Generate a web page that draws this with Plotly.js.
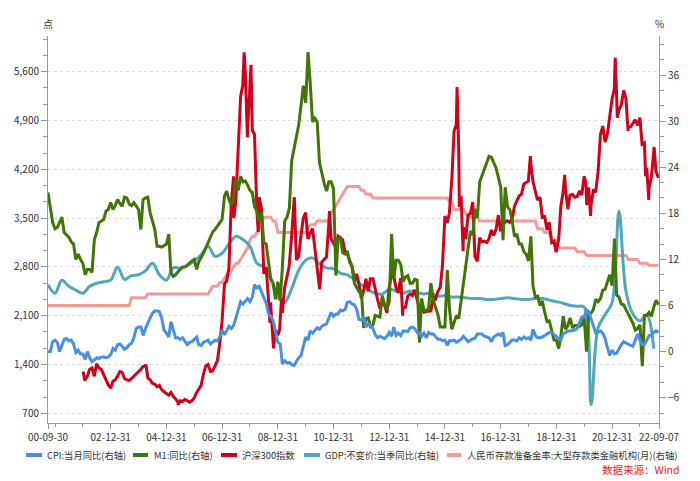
<!DOCTYPE html>
<html>
<head>
<meta charset="utf-8">
<script src="https://cdn.plot.ly/plotly-3.0.1.min.js"></script>
<style>html,body{margin:0;padding:0;background:#fff;}#chart{width:700px;height:481px;}</style>
</head>
<body>
<div id="chart"></div>
<script>
// ---------------- DATA ----------------
const seriesNames = ["CPI:当月同比(右轴)", "M1:同比(右轴)", "沪深300指数", "GDP:不变价:当季同比(右轴)", "人民币存款准备金率:大型存款类金融机构(月)(右轴)"];
const sourceText = "数据来源：Wind";

// Monthly series start 2000-09 (month-end)
const cpiValues = [
  0.0, 0.0, 1.3, 1.5,
  1.2, 0.0, 0.8, 1.6, 1.7, 1.4, 1.5, 1.0, -0.1, 0.2, -0.3, -0.3,
  -1.0, 0.0, -0.8, -1.3, -1.1, -0.8, -0.9, -0.7, -0.7, -0.8, -0.7, -0.4,
  0.4, 0.2, 0.9, 1.0, 0.7, 0.3, 0.5, 0.9, 1.1, 1.8, 3.0, 3.2,
  3.2, 2.1, 3.0, 3.8, 4.4, 5.0, 5.3, 5.3, 5.2, 4.3, 2.8, 2.4,
  1.9, 3.9, 2.7, 1.8, 1.8, 1.6, 1.8, 1.3, 0.9, 1.2, 1.3, 1.6,
  1.9, 0.9, 0.8, 1.2, 1.4, 1.5, 1.0, 1.3, 1.5, 1.4, 1.9, 2.8,
  2.2, 2.7, 3.3, 3.0, 3.4, 4.4, 5.6, 6.5, 6.2, 6.5, 6.9, 6.5,
  7.1, 8.7, 8.3, 8.5, 7.7, 7.1, 6.3, 4.9, 4.6, 4.0, 2.4, 1.2,
  1.0, -1.6, -1.2, -1.5, -1.4, -1.7, -1.8, -1.2, -0.8, -0.5, 0.6, 1.9,
  1.5, 2.7, 2.4, 2.8, 3.1, 2.9, 3.3, 3.5, 3.6, 4.4, 5.1, 4.6,
  4.9, 4.9, 5.4, 5.3, 5.5, 6.4, 6.5, 6.2, 6.1, 5.5, 4.2, 4.1,
  4.5, 3.2, 3.6, 3.4, 3.0, 2.2, 1.8, 2.0, 1.9, 1.7, 2.0, 2.5,
  2.0, 3.2, 2.1, 2.4, 2.1, 2.7, 2.7, 2.6, 3.1, 3.2, 3.0, 2.5,
  2.5, 2.0, 2.4, 1.8, 2.5, 2.3, 2.3, 2.0, 1.6, 1.6, 1.4, 1.5,
  0.8, 1.4, 1.4, 1.5, 1.2, 1.4, 1.6, 2.0, 1.6, 1.3, 1.5, 1.6,
  1.8, 2.3, 2.3, 2.3, 2.0, 1.9, 1.8, 1.3, 1.9, 2.1, 2.3, 2.1,
  2.5, 0.8, 0.9, 1.2, 1.5, 1.5, 1.4, 1.8, 1.6, 1.9, 1.7, 1.8,
  1.5, 2.9, 2.1, 1.8, 1.8, 1.9, 2.1, 2.3, 2.5, 2.5, 2.2, 1.9,
  1.7, 1.5, 2.3, 2.5, 2.7, 2.7, 2.8, 2.8, 3.0, 3.8, 4.5, 4.5,
  5.4, 5.2, 4.3, 3.3, 2.4, 2.5, 2.7, 2.4, 1.7, 0.5, -0.5, 0.2,
  -0.3, -0.2, 0.4, 0.9, 1.3, 1.1, 1.0, 0.8, 0.7, 1.5, 2.3, 1.5,
  0.9, 0.9, 1.5, 2.1, 2.1, 2.5, 2.7, 2.5
];

const m1Values = [
  20.7, 18.5, 16.8, 16.0,
  16.2, 16.8, 17.5, 15.5, 15.2, 14.9, 14.3, 14.0, 12.0, 12.7, 12.0, 11.5,
  10.0, 10.7, 10.7, 10.3, 14.6, 15.5, 16.8, 17.0, 17.2, 18.3, 18.5, 19.4,
  18.5, 19.0, 19.8, 19.3, 18.9, 20.1, 20.0, 19.2, 19.0, 19.4, 19.0, 18.5,
  15.9, 19.8, 20.0, 20.1, 18.1, 17.0, 15.9, 13.7, 13.7, 13.6, 13.8, 14.0,
  15.3, 10.3, 9.8, 10.0, 10.4, 10.7, 11.0, 11.0, 11.3, 11.5, 11.8, 12.0,
  10.7, 11.7, 12.2, 12.8, 13.5, 14.2, 15.0, 15.6, 15.9, 16.3, 16.8, 17.2,
  20.2, 20.9, 19.8, 19.1, 20.0, 22.4, 21.0, 22.8, 22.1, 22.2, 21.7, 21.0,
  20.7, 18.9, 18.3, 16.9, 18.1, 14.2, 14.0, 11.8, 9.4, 8.9, 6.8, 9.1,
  6.7, 10.9, 17.0, 17.5, 18.7, 24.8, 26.4, 27.7, 29.5, 32.0, 34.6, 32.4,
  39.0, 35.0, 29.9, 30.4, 29.9, 24.6, 23.0, 21.9, 20.9, 22.1, 22.1, 21.2,
  9.9, 14.5, 15.0, 12.9, 12.7, 13.1, 11.6, 11.2, 8.9, 8.4, 7.8, 7.9,
  3.1, 4.3, 4.4, 3.1, 3.5, 4.7, 4.6, 4.5, 7.3, 6.1, 5.5, 6.5,
  15.3, 9.5, 11.9, 11.9, 11.3, 9.1, 9.7, 9.9, 8.9, 8.9, 9.4, 9.3,
  1.2, 6.9, 5.4, 5.3, 5.7, 8.9, 6.7, 5.7, 4.8, 3.2, 3.2, 3.2,
  10.6, 5.6, 2.9, 3.7, 4.7, 4.3, 6.6, 9.3, 11.4, 14.0, 15.7, 15.2,
  18.6, 17.4, 22.1, 22.9, 23.7, 24.6, 25.4, 25.3, 24.7, 23.9, 22.7, 21.4,
  14.5, 21.4, 18.8, 18.5, 17.0, 15.0, 15.3, 14.0, 14.0, 13.0, 12.7, 11.8,
  15.0, 8.5, 7.1, 7.2, 6.0, 6.6, 5.1, 3.9, 4.0, 2.7, 1.5, 1.5,
  0.4, 2.0, 4.6, 2.9, 3.4, 4.4, 3.1, 3.4, 3.4, 3.3, 3.5, 4.4,
  0.0, 4.8, 5.0, 5.5, 6.8, 6.5, 6.9, 8.0, 8.1, 9.1, 10.0, 8.6,
  14.7, 7.4, 7.1, 6.2, 6.1, 5.5, 4.9, 4.2, 3.7, 2.8, 3.0, 3.5,
  -1.9, 4.7, 4.7, 5.1, 4.6, 5.8, 6.7, 6.1
];

// Quarterly GDP, starting 2000-Q3
const gdpValues = [
  8.7, 7.6,
  9.3, 8.5, 8.0, 7.6,
  8.5, 8.9, 9.1, 9.3,
  11.0, 9.4, 9.9, 10.0,
  10.5, 11.5, 10.0, 9.3,
  10.9, 10.9, 11.2, 11.8,
  12.6, 13.7, 12.4, 12.8,
  14.0, 15.0, 14.6, 13.7,
  11.5, 11.0, 9.5, 7.1,
  6.4, 8.2, 10.6, 11.9,
  12.2, 11.4, 10.9, 10.8,
  10.2, 10.0, 9.4, 8.7,
  8.1, 7.6, 7.5, 8.1,
  7.9, 7.6, 7.9, 7.7,
  7.5, 7.6, 7.2, 7.3,
  7.1, 7.1, 7.0, 6.9,
  6.9, 6.8, 6.8, 6.9,
  7.0, 6.9, 6.8, 6.8,
  6.9, 6.9, 6.7, 6.5,
  6.3, 6.0, 5.9, 5.8,
  -6.9, 3.1, 4.8, 6.4,
  18.3, 7.9, 4.9, 4.0,
  4.8, 0.4
];

// Reserve requirement ratio (large institutions), monthly change points
const rrrDates = [
  "2000-09-30","2003-08-31","2003-09-30","2004-03-31","2004-04-30","2006-06-30","2006-07-31","2006-08-31","2006-10-31","2006-11-30",
  "2006-12-31","2007-01-31","2007-02-28","2007-03-31","2007-04-30","2007-05-31","2007-06-30","2007-07-31","2007-08-31","2007-09-30",
  "2007-10-31","2007-11-30","2007-12-31","2008-01-31","2008-02-29","2008-03-31","2008-04-30","2008-05-31","2008-06-30","2008-09-30",
  "2008-10-31","2008-11-30","2008-12-31","2009-12-31","2010-01-31","2010-02-28","2010-04-30","2010-05-31","2010-10-31","2010-11-30",
  "2010-12-31","2011-01-31","2011-02-28","2011-03-31","2011-04-30","2011-05-31","2011-06-30","2011-11-30","2011-12-31","2012-01-31",
  "2012-02-29","2012-04-30","2012-05-31","2015-01-31","2015-02-28","2015-03-31","2015-04-30","2015-08-31","2015-09-30","2015-10-31",
  "2016-02-29","2016-03-31","2018-03-31","2018-04-30","2018-06-30","2018-07-31","2018-09-30","2018-10-31","2018-12-31","2019-01-31",
  "2019-08-31","2019-09-30","2019-12-31","2020-01-31","2021-06-30","2021-07-31","2021-11-30","2021-12-31","2022-03-31","2022-04-30",
  "2022-08-31"
];
const rrrValues = [
  6, 6, 7, 7, 7.5, 7.5, 8, 8.5, 8.5, 9,
  9, 9.5, 10, 10, 10.5, 11, 11.5, 11.5, 12, 12.5,
  13, 13.5, 14.5, 15, 15, 15.5, 16, 16.5, 17.5, 17.5,
  17, 17, 15.5, 15.5, 16, 16.5, 16.5, 17, 17, 18,
  18.5, 19, 19.5, 20, 20.5, 21, 21.5, 21.5, 21, 21,
  20.5, 20.5, 20, 20, 19.5, 19.5, 18.5, 18.5, 18, 17.5,
  17.5, 17, 17, 16, 16, 15.5, 15.5, 14.5, 14.5, 13.5,
  13.5, 13, 13, 12.5, 12.5, 12, 12, 11.5, 11.5, 11.25,
  11.25
];

// CSI 300 index
const csiDates = [
  "2002-01-04","2002-01-25","2002-02-28","2002-03-29","2002-04-30","2002-05-31","2002-06-28","2002-07-31","2002-08-30","2002-09-30","2002-10-31","2002-11-29","2002-12-31",
  "2003-01-30","2003-02-28","2003-03-31","2003-04-30","2003-05-30","2003-06-30","2003-07-31","2003-08-29","2003-09-30","2003-10-31","2003-11-28","2003-12-31",
  "2004-01-30","2004-02-27","2004-03-31","2004-04-07","2004-04-30","2004-05-31","2004-06-30","2004-07-30","2004-08-31","2004-09-30","2004-10-29","2004-11-30","2004-12-31",
  "2005-01-31","2005-02-28","2005-03-31","2005-04-29","2005-05-31","2005-06-03","2005-06-30","2005-07-29","2005-08-31","2005-09-30","2005-10-31","2005-11-30","2005-12-30",
  "2006-01-26","2006-02-28","2006-03-31","2006-04-28","2006-05-31","2006-06-30","2006-07-31","2006-08-31","2006-09-29","2006-10-31","2006-11-30","2006-12-29",
  "2007-01-31","2007-02-28","2007-03-30","2007-04-30","2007-05-30","2007-06-04","2007-06-29","2007-07-31","2007-08-31","2007-09-28","2007-10-16","2007-10-31","2007-11-28","2007-11-30","2007-12-28",
  "2008-01-14","2008-01-31","2008-02-29","2008-03-31","2008-04-18","2008-04-30","2008-05-30","2008-06-30","2008-07-31","2008-08-29","2008-09-18","2008-09-26","2008-10-31","2008-11-04","2008-11-28","2008-12-31",
  "2009-01-23","2009-02-17","2009-02-27","2009-03-31","2009-04-30","2009-05-27","2009-06-30","2009-07-31","2009-08-04","2009-08-31","2009-09-30","2009-10-30","2009-11-30","2009-12-31",
  "2010-01-29","2010-02-26","2010-03-31","2010-04-30","2010-05-31","2010-06-30","2010-07-02","2010-07-30","2010-08-31","2010-09-30","2010-10-29","2010-11-08","2010-11-30","2010-12-31",
  "2011-01-31","2011-02-28","2011-03-31","2011-04-29","2011-05-31","2011-06-30","2011-07-29","2011-08-31","2011-09-30","2011-10-31","2011-11-30","2011-12-30",
  "2012-01-31","2012-02-29","2012-03-30","2012-04-27","2012-05-31","2012-06-29","2012-07-31","2012-08-31","2012-09-28","2012-10-31","2012-11-30","2012-12-31",
  "2013-01-31","2013-02-06","2013-02-28","2013-03-29","2013-04-26","2013-05-31","2013-06-25","2013-06-28","2013-07-31","2013-08-30","2013-09-30","2013-10-31","2013-11-29","2013-12-31",
  "2014-01-30","2014-02-28","2014-03-31","2014-04-30","2014-05-30","2014-06-30","2014-07-31","2014-08-29","2014-09-30","2014-10-31","2014-11-28","2014-12-31",
  "2015-01-30","2015-02-27","2015-03-31","2015-04-30","2015-05-29","2015-06-08","2015-06-30","2015-07-08","2015-07-31","2015-08-26","2015-08-31","2015-09-30","2015-10-30","2015-11-30","2015-12-31",
  "2016-01-28","2016-02-29","2016-03-31","2016-04-29","2016-05-31","2016-06-30","2016-07-29","2016-08-31","2016-09-30","2016-10-31","2016-11-30","2016-12-30",
  "2017-01-26","2017-02-28","2017-03-31","2017-04-28","2017-05-31","2017-06-30","2017-07-31","2017-08-31","2017-09-29","2017-10-31","2017-11-30","2017-12-29",
  "2018-01-24","2018-01-31","2018-02-28","2018-03-30","2018-04-27","2018-05-31","2018-06-29","2018-07-31","2018-08-31","2018-09-28","2018-10-31","2018-11-30","2018-12-28",
  "2019-01-31","2019-02-28","2019-03-29","2019-04-19","2019-04-30","2019-05-31","2019-06-28","2019-07-31","2019-08-30","2019-09-30","2019-10-31","2019-11-29","2019-12-31",
  "2020-01-23","2020-02-03","2020-02-28","2020-03-23","2020-03-31","2020-04-30","2020-05-29","2020-06-30","2020-07-31","2020-08-31","2020-09-30","2020-10-30","2020-11-30","2020-12-31",
  "2021-01-29","2021-02-10","2021-02-26","2021-03-09","2021-03-31","2021-04-30","2021-05-31","2021-06-30","2021-07-28","2021-07-30","2021-08-31","2021-09-30","2021-10-29","2021-11-30","2021-12-31",
  "2022-01-28","2022-02-28","2022-03-15","2022-03-31","2022-04-26","2022-04-29","2022-05-31","2022-06-30","2022-07-05","2022-07-29","2022-08-31","2022-09-07"
];
const csiValues = [
  1300, 1170, 1230, 1330, 1350, 1230, 1410, 1350, 1330, 1240, 1180, 1110, 1060,
  1160, 1180, 1230, 1300, 1290, 1200, 1180, 1170, 1200, 1230, 1260, 1290,
  1330, 1370, 1380, 1400, 1210, 1180, 1130, 1120, 1080, 1100, 1040, 1010, 990,
  960, 1000, 940, 910, 860, 820, 880, 870, 900, 880, 860, 880, 920,
  990, 1040, 1100, 1250, 1380, 1400, 1300, 1310, 1380, 1460, 1700, 2000,
  2550, 2600, 2780, 3700, 4100, 3500, 3750, 4470, 5250, 5400, 5877, 5600, 4660, 4770, 5340,
  5700, 4760, 4700, 3600, 3300, 3800, 3650, 2700, 2800, 2350, 2000, 2290, 1700, 1630, 1900, 1820,
  1900, 2350, 2140, 2510, 2660, 2800, 3240, 3650, 3800, 2900, 2950, 3250, 3500, 3580,
  3200, 3280, 3350, 3070, 2800, 2560, 2480, 2870, 2900, 2940, 3400, 3600, 3200, 3130,
  3080, 3240, 3220, 3190, 3010, 2990, 2900, 2800, 2600, 2700, 2550, 2350,
  2460, 2630, 2450, 2630, 2630, 2460, 2330, 2200, 2290, 2250, 2140, 2520,
  2690, 2790, 2670, 2500, 2430, 2640, 2100, 2210, 2220, 2380, 2410, 2390, 2470, 2330,
  2200, 2180, 2150, 2160, 2160, 2170, 2370, 2340, 2450, 2510, 2810, 3530,
  3430, 3570, 4050, 4750, 4840, 5380, 4470, 3660, 3820, 3030, 3370, 3200, 3540, 3570, 3730,
  2950, 2880, 3220, 3160, 3170, 3150, 3200, 3330, 3250, 3340, 3540, 3310,
  3390, 3450, 3460, 3440, 3490, 3670, 3740, 3820, 3840, 3990, 4010, 4030,
  4390, 4280, 4020, 3900, 3760, 3800, 3510, 3520, 3330, 3440, 3150, 3170, 3010,
  3200, 3670, 3870, 4120, 3910, 3630, 3830, 3840, 3800, 3810, 3890, 3830, 4100,
  4000, 3690, 3940, 3530, 3690, 3910, 3870, 4160, 4700, 4820, 4590, 4700, 4980, 5210,
  5350, 5800, 5340, 4940, 5050, 5120, 5330, 5220, 4750, 4810, 4810, 4870, 4910, 4830, 4940,
  4560, 4580, 4100, 4220, 3760, 3920, 4090, 4480, 4520, 4170, 4080, 4130
];

// Axis ticks
const xStart = "2000-09-30", xEnd = "2022-09-07";
const xTickVals = ["2000-09-30","2002-12-31","2004-12-31","2006-12-31","2008-12-31","2010-12-31","2012-12-31","2014-12-31","2016-12-31","2018-12-31","2020-12-31","2022-09-07"];
const xTickText = ["00-09-30","02-12-31","04-12-31","06-12-31","08-12-31","10-12-31","12-12-31","14-12-31","16-12-31","18-12-31","20-12-31","22-09-07"];
const xMinorVals = ["2000-12-31","2001-12-31","2003-12-31","2005-12-31","2007-12-31","2009-12-31","2011-12-31","2013-12-31","2015-12-31","2017-12-31","2019-12-31","2021-12-31"];

// ---------------- HELPERS ----------------
function pad(n){return (n<10?"0":"")+n;}
function periodEnds(startYear, startMonth, stepMonths, count){
  const out=[];
  for(let i=0;i<count;i++){
    const m0=(startMonth-1)+i*stepMonths;
    const y=startYear+Math.floor(m0/12), m=(m0%12)+1;
    const d=new Date(Date.UTC(y, m, 0)).getUTCDate();
    out.push(y+"-"+pad(m)+"-"+pad(d));
  }
  return out;
}
const monthDates = periodEnds(2000, 9, 1, cpiValues.length);
const m1Dates = periodEnds(2000, 9, 1, m1Values.length);
const gdpDates = periodEnds(2000, 9, 3, gdpValues.length);

// ---------------- STYLE ----------------
const colors = ["#4A90E2", "#417505", "#D0021B", "#4FA7B9", "#F49A9A"];
const FONT = '"Noto Sans CJK SC", "Noto Sans", sans-serif';
const AX = "#9a9a9a", TXT = "#333333";
const plotL=48, plotR=659, plotT=36, plotB=423;
const px = x => (x-plotL)/(plotR-plotL);
const py = y => (plotB-y)/(plotB-plotT);

const traces = [
  {name:seriesNames[4], x:rrrDates, y:rrrValues, yaxis:"y", type:"scatter", mode:"lines", line:{color:colors[4], width:3}},
  {name:seriesNames[3], x:gdpDates, y:gdpValues, yaxis:"y", type:"scatter", mode:"lines", line:{color:colors[3], width:3, shape:"spline", smoothing:1}},
  {name:seriesNames[2], x:csiDates, y:csiValues, yaxis:"y2", type:"scatter", mode:"lines", line:{color:colors[2], width:3}},
  {name:seriesNames[1], x:m1Dates, y:m1Values, yaxis:"y3", type:"scatter", mode:"lines", line:{color:colors[1], width:3}},
  {name:seriesNames[0], x:monthDates, y:cpiValues, yaxis:"y3", type:"scatter", mode:"lines", line:{color:colors[0], width:3}}
];

const rightRange = [-9.29, 41.08];

// manual legend layout (pixel positions)
const legendSymX = [[26,42],[133,148],[221,237],[304,320],[447,461]];
const legendTextX = [45,152,240,323,465];
const legendY = 455;

const shapes = legendSymX.map((s,i)=>({type:"line", xref:"paper", yref:"paper", x0:px(s[0]), x1:px(s[1]), y0:py(legendY), y1:py(legendY), line:{color:colors[i], width:4}}));
const annotations = seriesNames.map((t,i)=>({text:t, xref:"paper", yref:"paper", x:px(legendTextX[i]), y:py(legendY), xanchor:"left", yanchor:"middle", showarrow:false, font:{family:FONT, size:9.3, color:TXT}}));
annotations.push({text:sourceText, xref:"paper", yref:"paper", x:px(682), y:py(470), xanchor:"right", yanchor:"middle", showarrow:false, font:{family:FONT, size:10.5, color:"#E8262B"}});
annotations.push({text:"点", xref:"paper", yref:"paper", x:0, y:py(23), xanchor:"center", yanchor:"middle", showarrow:false, font:{family:FONT, size:10, color:TXT}});
annotations.push({text:"%", xref:"paper", yref:"paper", x:1, y:py(23), xanchor:"center", yanchor:"middle", showarrow:false, font:{family:FONT, size:10, color:TXT}});

const layout = {
  width:700, height:481,
  margin:{l:plotL, r:700-plotR, t:plotT, b:481-plotB, pad:0},
  paper_bgcolor:"#ffffff", plot_bgcolor:"#ffffff",
  showlegend:false,
  font:{family:FONT, size:10, color:TXT},
  xaxis:{type:"date", range:[xStart,xEnd], tickmode:"array", tickvals:xTickVals, ticktext:xTickText,
    ticks:"outside", ticklen:5, tickcolor:AX, tickwidth:1, showline:true, linecolor:AX, linewidth:1,
    showgrid:false, zeroline:false, tickfont:{family:FONT, size:10, color:TXT},
    minor:{tickmode:"array", tickvals:xMinorVals, ticks:"outside", ticklen:3, tickcolor:AX, showgrid:false}},
  yaxis:{side:"right", range:rightRange, tickmode:"linear", tick0:0, dtick:6,
    ticks:"outside", ticklen:6, tickcolor:AX, showline:true, linecolor:AX, linewidth:1,
    showgrid:false, zeroline:false, tickfont:{family:FONT, size:10, color:TXT},
    minor:{tick0:0, dtick:2, ticks:"outside", ticklen:4, tickcolor:AX, showgrid:false}},
  yaxis2:{side:"left", overlaying:"y", range:[561,6112], tickmode:"linear", tick0:700, dtick:700, tickformat:",d",
    ticks:"outside", ticklen:6, tickcolor:AX, showline:true, linecolor:AX, linewidth:1,
    showgrid:true, gridcolor:"#dcdcdc", gridwidth:1, griddash:"3px,3px", zeroline:false,
    tickfont:{family:FONT, size:10, color:TXT},
    minor:{tick0:700, dtick:700/3, ticks:"outside", ticklen:4, tickcolor:AX, showgrid:false}},
  yaxis3:{overlaying:"y", range:rightRange, visible:false, showgrid:false, zeroline:false},
  shapes:shapes,
  annotations:annotations
};

Plotly.newPlot("chart", traces, layout, {displayModeBar:false, staticPlot:true});
</script>
</body>
</html>
